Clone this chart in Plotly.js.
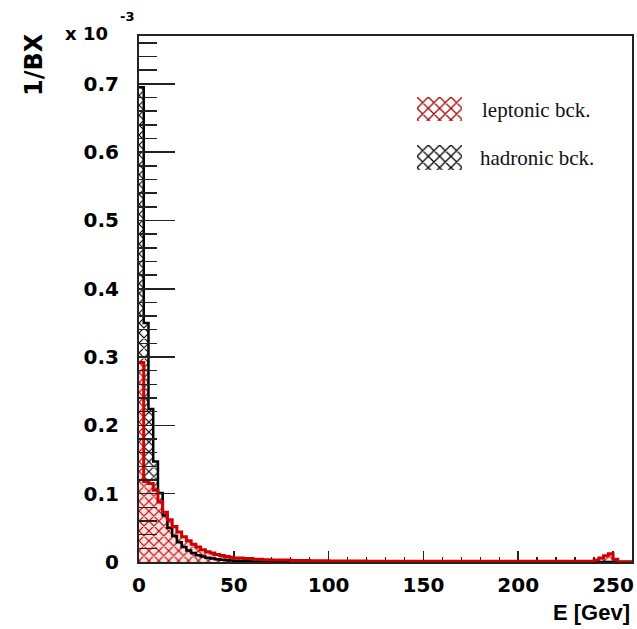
<!DOCTYPE html>
<html>
<head>
<meta charset="utf-8">
<script src="https://cdn.plot.ly/plotly-3.0.1.min.js"></script>
<style>html,body{margin:0;padding:0;background:#fff;}#chart{width:637px;height:629px;}</style>
</head>
<body>
<div id="chart"></div>
<script>
// Energy bin edges [GeV] and contents [1/BX, x 10^-3]
var hadronicEdges = [0,2.5,5,7.5,10,12.5,15,17.5,20,22.5,25,27.5,30,32.5,35,37.5,40,42.5,45,47.5,50,55,60,70,80,100,260];
var hadronicVals  = [0.695,0.350,0.224,0.147,0.101,0.068,0.050,0.038,0.029,0.022,0.017,0.013,0.010,0.008,0.0063,0.005,0.004,0.0032,0.0026,0.0021,0.0016,0.0012,0.0008,0.0005,0.0003,0.0001];

var leptonicEdges = [0,2.5,5,7.5,10,12.5,15,17.5,20,22.5,25,27.5,30,32.5,35,37.5,40,42.5,45,47.5,50,55,60,65,70,80,90,100,120,150,200,240,242.5,245,247.5,250,252.5,260];
var leptonicVals  = [0.292,0.118,0.115,0.105,0.088,0.073,0.062,0.052,0.044,0.037,0.031,0.026,0.022,0.018,0.015,0.013,0.011,0.0095,0.0082,0.007,0.006,0.005,0.004,0.0034,0.0028,0.0022,0.0018,0.0014,0.0012,0.001,0.001,0.003,0.006,0.009,0.012,0.004,0.0005];

var yTickVals = [0,0.1,0.2,0.3,0.4,0.5,0.6,0.7];
var yTickText = ['0','0.1','0.2','0.3','0.4','0.5','0.6','0.7'];
var xTickVals = [0,50,100,150,200,250];
var xTickText = ['0','50','100','150','200','250'];
var legendLabels = ['leptonic bck.','hadronic bck.'];

function stepY(v){ return v.concat([v[v.length-1]]); }

var RED = '#d00000';
var traces = [
  {x: hadronicEdges, y: stepY(hadronicVals), type:'scatter', mode:'lines', line:{shape:'hv', width:0, color:'#000'},
   fill:'tozeroy', fillcolor:'rgba(0,0,0,0)', fillpattern:{shape:'x', fgcolor:'#000', bgcolor:'#ffffff', size:7, solidity:0.3},
   hoverinfo:'skip', showlegend:false},
  {x: leptonicEdges, y: stepY(leptonicVals), type:'scatter', mode:'lines', line:{shape:'hv', width:0, color:RED},
   fill:'tozeroy', fillcolor:'rgba(0,0,0,0)', fillpattern:{shape:'x', fgcolor:'#c00000', bgcolor:'#fbe4e4', size:7, solidity:0.3},
   hoverinfo:'skip', showlegend:false},
  {x: hadronicEdges, y: stepY(hadronicVals), type:'scatter', mode:'lines', line:{shape:'hv', width:2.5, color:'#000'},
   hoverinfo:'skip', showlegend:false},
  {x: leptonicEdges, y: stepY(leptonicVals), type:'scatter', mode:'lines', line:{shape:'hv', width:3, color:RED},
   hoverinfo:'skip', showlegend:false},
  // legend swatches
  {x:[0], y:[1], width:[1], type:'bar', xaxis:'x2', yaxis:'y2', hoverinfo:'skip', showlegend:false,
   marker:{color:'#ffffff', line:{width:0}, pattern:{shape:'x', fgcolor:'#a00000', bgcolor:'#ffffff', size:8, solidity:0.3}}},
  {x:[0], y:[1], width:[1], type:'bar', xaxis:'x3', yaxis:'y3', hoverinfo:'skip', showlegend:false,
   marker:{color:'#ffffff', line:{width:0}, pattern:{shape:'x', fgcolor:'#000000', bgcolor:'#ffffff', size:8, solidity:0.3}}}
];

var W = 493, H = 526, L = 139, B = 562;
function px(x){ return (x - L)/W; }
function py(y){ return (B - y)/H; }

var tickFont = {family:'DejaVu Sans', size:20, color:'#000', weight:700};
var layout = {
  width:637, height:629,
  margin:{l:139, r:5, t:36, b:67, pad:0},
  paper_bgcolor:'#fff', plot_bgcolor:'#fff',
  showlegend:false,
  xaxis:{range:[0,260], tickvals:xTickVals, ticktext:xTickText, ticks:'inside', ticklen:11, tickwidth:1.5, tickcolor:'#222',
         minor:{dtick:10, tick0:0, ticks:'inside', ticklen:5, tickwidth:1.5, tickcolor:'#222'},
         showline:true, mirror:true, linecolor:'#222', linewidth:2, showgrid:false, zeroline:false,
         tickfont:tickFont, ticklabelstandoff:4, layer:'below traces', fixedrange:true},
  yaxis:{range:[0,0.77], tickvals:yTickVals, ticktext:yTickText, ticks:'inside', ticklen:36, tickwidth:1.5, tickcolor:'#222',
         minor:{dtick:0.02, tick0:0, ticks:'inside', ticklen:18, tickwidth:1.5, tickcolor:'#222'},
         showline:true, mirror:true, linecolor:'#222', linewidth:2, showgrid:false, zeroline:false,
         tickfont:tickFont, ticklabelstandoff:14, layer:'above traces', fixedrange:true},
  xaxis2:{domain:[px(417), px(462)], range:[-0.5,0.5], visible:false, anchor:'y2', fixedrange:true},
  yaxis2:{domain:[py(121), py(97)], range:[0,1], visible:false, anchor:'x2', fixedrange:true},
  xaxis3:{domain:[px(417), px(462)], range:[-0.5,0.5], visible:false, anchor:'y3', fixedrange:true},
  yaxis3:{domain:[py(170), py(145)], range:[0,1], visible:false, anchor:'x3', fixedrange:true},
  bargap:0,
  annotations:[
    {text:'1/BX', xref:'paper', yref:'paper', x:px(34), y:py(65), xanchor:'center', yanchor:'middle', textangle:-90,
     showarrow:false, font:{family:'DejaVu Sans', size:24, color:'#000', weight:700}},
    {text:'x 10', xref:'paper', yref:'paper', x:px(86), y:py(33), xanchor:'center', yanchor:'middle',
     showarrow:false, font:{family:'DejaVu Sans', size:18, color:'#000', weight:700}},
    {text:'-3', xref:'paper', yref:'paper', x:px(127), y:py(17), xanchor:'center', yanchor:'middle',
     showarrow:false, font:{family:'DejaVu Sans', size:13, color:'#000', weight:700}},
    {text:'E [Gev]', xref:'paper', yref:'paper', x:1, y:py(613), xanchor:'right', yanchor:'middle',
     showarrow:false, font:{family:'Liberation Sans', size:22, color:'#000', weight:700}},
    {text:legendLabels[0], xref:'paper', yref:'paper', x:px(480), y:py(110), xanchor:'left', yanchor:'middle',
     showarrow:false, font:{family:'Liberation Serif', size:21, color:'#111'}},
    {text:legendLabels[1], xref:'paper', yref:'paper', x:px(478), y:py(158), xanchor:'left', yanchor:'middle',
     showarrow:false, font:{family:'Liberation Serif', size:21, color:'#111'}}
  ]
};

Plotly.newPlot('chart', traces, layout, {staticPlot:true, displayModeBar:false});
</script>
</body>
</html>
